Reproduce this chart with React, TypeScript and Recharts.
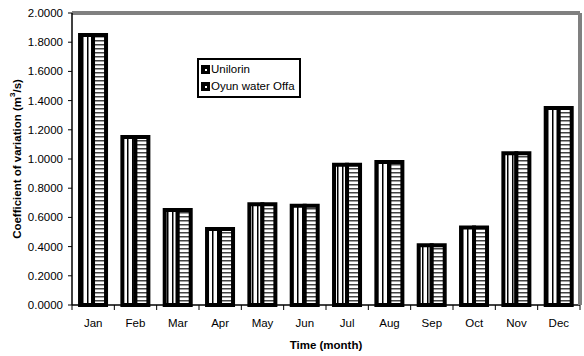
import { Bar, BarChart, ReferenceLine, XAxis, YAxis } from "recharts";

const months = ["Jan", "Feb", "Mar", "Apr", "May", "Jun", "Jul", "Aug", "Sep", "Oct", "Nov", "Dec"];
const unilorin = [1.85, 1.15, 0.65, 0.52, 0.69, 0.68, 0.96, 0.98, 0.41, 0.53, 1.04, 1.35];
const oyunOffa = [1.85, 1.15, 0.65, 0.52, 0.69, 0.68, 0.96, 0.98, 0.41, 0.53, 1.04, 1.35];
const yTicks = [0, 0.2, 0.4, 0.6, 0.8, 1.0, 1.2, 1.4, 1.6, 1.8, 2.0];

const data = months.map((m, i) => ({ month: m, unilorin: unilorin[i], oyun: oyunOffa[i] }));

const W = 584;
const H = 356;
const Y_AXIS_W = 72;
const RIGHT_W = 4;
const PLOT_W = W - Y_AXIS_W - RIGHT_W;
const BAND = PLOT_W / months.length;
const FONT = "'Liberation Sans', Arial, sans-serif";

// month label centred under the bar pair, tick mark on the band boundary
const MonthTick = (props: any) => {
  const { x, y, payload, index } = props;
  const left = x - BAND / 2;
  return (
    <g>
      <line x1={left} x2={left} y1={y} y2={y + 5} stroke="#000" strokeWidth={1} />
      {index === months.length - 1 && (
        <line x1={x + BAND / 2} x2={x + BAND / 2} y1={y} y2={y + 5} stroke="#000" strokeWidth={1} />
      )}
      <text x={x} y={y + 22} textAnchor="middle" fontSize={11.5} fontFamily={FONT} fill="#000">
        {payload.value}
      </text>
    </g>
  );
};

const YTitle = (props: any) => {
  const { viewBox } = props;
  const cy = viewBox.y + viewBox.height / 2;
  const cx = 17;
  return (
    <text
      x={cx}
      y={cy}
      transform={`rotate(-90 ${cx} ${cy})`}
      textAnchor="middle"
      dominantBaseline="central"
      fontSize={11.5}
      fontWeight="bold"
      fontFamily={FONT}
      fill="#000"
    >
      Coefficient of variation (m
      <tspan fontSize={8} dy={-5}>3</tspan>
      <tspan dy={5}>/s)</tspan>
    </text>
  );
};

const legendItems = ["Unilorin", "Oyun water Offa"];

const LegendBox = () => (
  <div
    style={{
      position: "absolute",
      left: 197,
      top: 58,
      border: "2px solid #000",
      background: "#fff",
      padding: "1px 4px 1px 2px",
      fontFamily: FONT,
      fontSize: 11.5,
      lineHeight: "17px",
      color: "#000",
    }}
  >
    {legendItems.map((name) => (
      <div key={name} style={{ display: "flex", alignItems: "center" }}>
        <span
          style={{
            width: 9,
            height: 9,
            background: "#000",
            display: "inline-flex",
            alignItems: "center",
            justifyContent: "center",
            marginRight: 1,
          }}
        >
          <span style={{ width: 2, height: 2, background: "#fff" }} />
        </span>
        {name}
      </div>
    ))}
  </div>
);

export default function App() {
  return (
    <div style={{ position: "absolute", left: 0, top: 0, width: W, height: H, background: "#fff" }}>
      <BarChart
        width={W}
        height={H}
        data={data}
        margin={{ top: 13, right: 0, bottom: 0, left: 0 }}
        barCategoryGap="19%"
        barGap={0}
      >
        <defs>
          <pattern id="vlines" width="5" height="4" patternUnits="userSpaceOnUse">
            <rect width="5" height="4" fill="#fff" />
            <rect x="2" width="1.5" height="4" fill="#000" />
          </pattern>
          <pattern id="hlines" width="4" height="4" patternUnits="userSpaceOnUse">
            <rect width="4" height="4" fill="#fff" />
            <rect y="0" width="4" height="1.5" fill="#444" />
          </pattern>
        </defs>
        <XAxis
          dataKey="month"
          height={51}
          tickLine={false}
          tickSize={0}
          tickMargin={0}
          interval={0}
          axisLine={{ stroke: "#000", strokeWidth: 1.5 }}
          tick={<MonthTick />}
          label={{
            value: "Time (month)",
            position: "insideBottom",
            offset: 7,
            fontSize: 11.5,
            fontWeight: "bold",
            fontFamily: FONT,
            fill: "#000",
          }}
        />
        <YAxis
          yAxisId="left"
          width={Y_AXIS_W}
          domain={[0, 2]}
          ticks={yTicks}
          interval={0}
          tickSize={4}
          tickMargin={5}
          tickFormatter={(v: number) => v.toFixed(4)}
          tick={{ fontSize: 11.5, fontFamily: FONT, fill: "#000" }}
          tickLine={{ stroke: "#000" }}
          axisLine={{ stroke: "#000", strokeWidth: 1.5 }}
          label={<YTitle />}
        />
        <YAxis
          yAxisId="right"
          orientation="right"
          width={RIGHT_W}
          domain={[0, 2]}
          tick={false}
          tickLine={false}
          axisLine={{ stroke: "#808080", strokeWidth: 4 }}
        />
        <ReferenceLine yAxisId="left" y={2} stroke="#808080" strokeWidth={4} />
        <Bar
          yAxisId="left"
          dataKey="unilorin"
          name="Unilorin"
          fill="url(#vlines)"
          stroke="#000"
          strokeWidth={4}
          isAnimationActive={false}
        />
        <Bar
          yAxisId="left"
          dataKey="oyun"
          name="Oyun water Offa"
          fill="url(#hlines)"
          stroke="#000"
          strokeWidth={4}
          isAnimationActive={false}
        />
      </BarChart>
      <LegendBox />
    </div>
  );
}
